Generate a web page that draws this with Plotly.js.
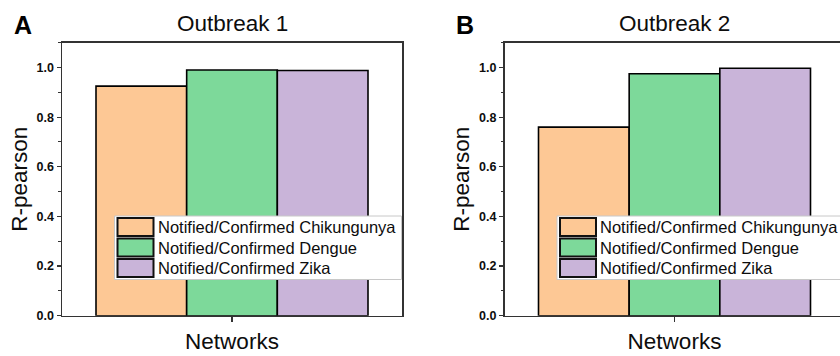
<!DOCTYPE html>
<html>
<head>
<meta charset="utf-8">
<script src="https://cdn.plot.ly/plotly-3.0.1.min.js"></script>
<style>
  html, body { margin: 0; padding: 0; overflow: hidden; background: #fff; }
  #chart { width: 846px; height: 356px; }
</style>
</head>
<body>
<div id="chart"></div>
<script>
// Pearson correlation between notified and confirmed cases, per disease
const seriesNames = [
  'Notified/Confirmed Chikungunya',
  'Notified/Confirmed Dengue',
  'Notified/Confirmed Zika'
];
const outbreak1 = [0.925, 0.990, 0.988];
const outbreak2 = [0.760, 0.975, 0.997];
const panelTitles = ['Outbreak 1', 'Outbreak 2'];
const panelLetters = ['A', 'B'];
const xLabel = 'Networks';
const yLabel = 'R-pearson';
const yTickVals = [0, 0.2, 0.4, 0.6, 0.8, 1.0];

const colors = ['#FDC895', '#7DD99A', '#C9B4D9'];

// Figure is laid out in pixels and converted to paper fractions
const W = 846, H = 356;
const px = x => x / W;
const py = y => 1 - y / H;

const plotTop = 42.7, plotBottom = 315.7;
const panels = [
  { left: 62, right: 402, values: outbreak1, xa: 'x', ya: 'y' },
  { left: 504.5, right: 844.5, values: outbreak2, xa: 'x2', ya: 'y2' }
];

const font = 'Arial, "Liberation Sans", sans-serif';
const axisColor = '#333';
const textColor = '#0d0d0d';

const traces = [];
panels.forEach((p) => {
  seriesNames.forEach((name, i) => {
    traces.push({
      type: 'bar',
      name: name,
      x: [0],
      y: [p.values[i]],
      xaxis: p.xa,
      yaxis: p.ya,
      marker: { color: colors[i], line: { color: '#000', width: 1.6 } },
      showlegend: false,
      hoverinfo: 'y'
    });
  });
});

const layout = {
  width: W,
  height: H,
  autosize: false,
  margin: { l: 0, r: 0, t: 0, b: 0, pad: 0 },
  paper_bgcolor: '#fff',
  plot_bgcolor: '#fff',
  barmode: 'group',
  bargap: 0.2,
  bargroupgap: 0,
  showlegend: false,
  font: { family: font, color: textColor },
  shapes: [],
  annotations: []
};

panels.forEach((p, pi) => {
  const n = pi === 0 ? '' : '2';
  const xDom = [px(p.left), px(p.right)];
  const yDom = [py(plotBottom), py(plotTop)];
  const xName = 'xaxis' + n, yName = 'yaxis' + n;
  const yAnchor = 'y' + n, xAnchor = 'x' + n;

  layout[xName] = {
    domain: xDom, anchor: yAnchor, range: [-0.5, 0.5],
    showline: true, linecolor: axisColor, linewidth: 1.5, mirror: true,
    ticks: 'outside', ticklen: 5, tickwidth: 1.5, tickcolor: axisColor,
    tickvals: [0], showticklabels: false, showgrid: false, zeroline: false,
    automargin: false, fixedrange: true,
    title: { text: xLabel, font: { size: 22.5, color: textColor, family: font }, standoff: 12 }
  };
  layout[yName] = {
    domain: yDom, anchor: xAnchor, range: [0, 1.1],
    showline: true, linecolor: axisColor, linewidth: 1.5, mirror: true,
    ticks: 'outside', ticklen: 4, tickwidth: 1.3, tickcolor: axisColor,
    tickvals: yTickVals, tickformat: '.1f',
    tickfont: { family: font, size: 12.5, color: textColor, weight: 'bold' },
    minor: { ticks: 'outside', ticklen: 2.5, tickwidth: 1, tickcolor: axisColor, dtick: 0.1, showgrid: false },
    showgrid: false, zeroline: false, automargin: false, fixedrange: true,
    title: { text: yLabel, font: { size: 22.5, color: textColor, family: font }, standoff: 2.5 }
  };

  // inward ticks on the top and right frame edges
  const topName = 'xaxis' + (pi === 0 ? '3' : '4');
  const sideName = 'yaxis' + (pi === 0 ? '3' : '4');
  layout[topName] = {
    overlaying: xAnchor, anchor: yAnchor, side: 'top', range: [-0.5, 0.5],
    showline: false, ticks: 'inside', ticklen: 5, tickwidth: 1.5, tickcolor: axisColor,
    tickvals: [0], showticklabels: false, showgrid: false, zeroline: false, fixedrange: true
  };
  layout[sideName] = {
    overlaying: yAnchor, anchor: xAnchor, side: 'right', range: [0, 1.1],
    showline: false, ticks: 'inside', ticklen: 5, tickwidth: 1.3, tickcolor: axisColor,
    tickvals: yTickVals, showticklabels: false,
    minor: { ticks: 'inside', ticklen: 3, tickwidth: 1, tickcolor: axisColor, dtick: 0.1, showgrid: false },
    showgrid: false, zeroline: false, fixedrange: true
  };

  const cx = (p.left + p.right) / 2;
  layout.annotations.push({
    xref: 'paper', yref: 'paper', x: px(cx), y: py(24),
    xanchor: 'center', yanchor: 'middle', showarrow: false,
    text: panelTitles[pi], font: { family: font, size: 22.5, color: textColor }
  });
  layout.annotations.push({
    xref: 'paper', yref: 'paper', x: px(p.left - 39.5), y: py(25),
    xanchor: 'center', yanchor: 'middle', showarrow: false,
    text: '<b>' + panelLetters[pi] + '</b>', font: { family: font, size: 25, color: '#000' }
  });

  // legend block inside each panel
  const boxLeft = p.left + 52.5;
  const boxRight = pi === 0 ? p.right - 0.5 : W + 10;
  layout.shapes.push({
    type: 'rect', xref: 'paper', yref: 'paper',
    x0: px(boxLeft), x1: px(boxRight), y0: py(279.5), y1: py(216),
    fillcolor: '#fff', line: { color: '#c8c8c8', width: 1 }, layer: 'above'
  });
  const rowCenters = [227, 247.5, 268];
  seriesNames.forEach((name, i) => {
    layout.shapes.push({
      type: 'rect', xref: 'paper', yref: 'paper',
      x0: px(boxLeft + 3), x1: px(boxLeft + 39), y0: py(rowCenters[i] + 9), y1: py(rowCenters[i] - 9),
      fillcolor: colors[i], line: { color: '#111', width: 2 }, layer: 'above'
    });
    layout.annotations.push({
      xref: 'paper', yref: 'paper', x: px(boxLeft + 41), y: py(rowCenters[i]),
      xanchor: 'left', yanchor: 'middle', showarrow: false,
      text: name, font: { family: font, size: 16.5, color: textColor }
    });
  });
});

Plotly.newPlot('chart', traces, layout, { staticPlot: true, displayModeBar: false });
</script>
</body>
</html>
